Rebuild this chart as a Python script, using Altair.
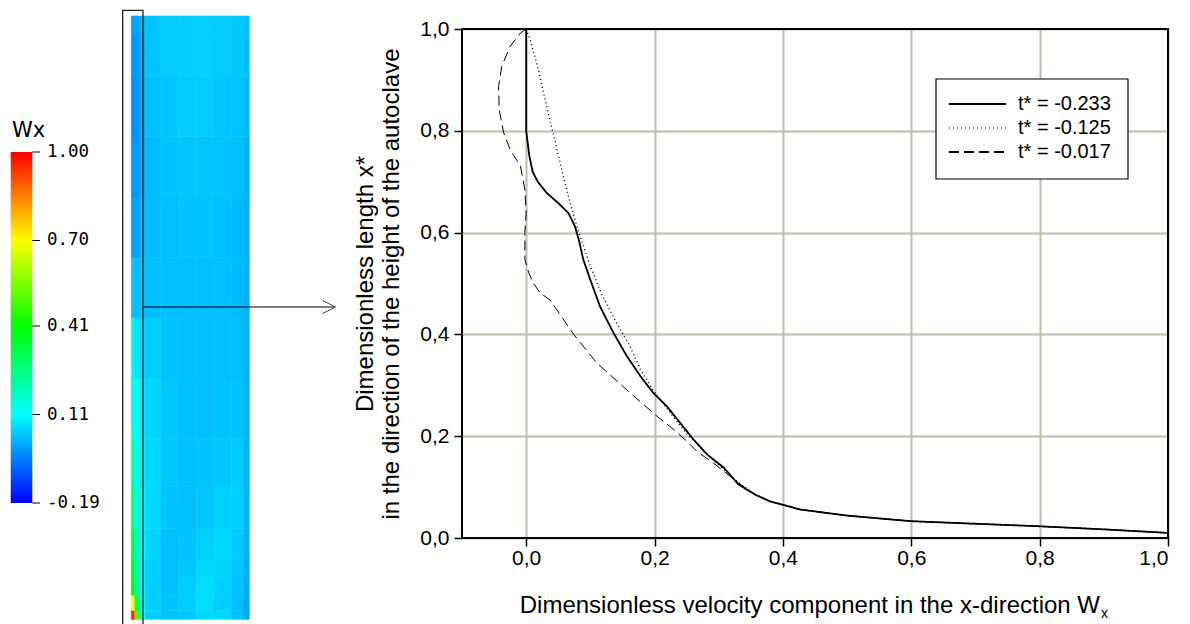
import altair as alt
import pandas as pd

# ---------------------------------------------------------------------------
# Velocity profiles near the wall: W_x (dimensionless) against height x*
# ---------------------------------------------------------------------------
SERIES = ["t* = -0.233", "t* = -0.125", "t* = -0.017"]

W_T233 = [0.0, 0.0, 0.0, 0.002, 0.005, 0.01, 0.018, 0.032, 0.05, 0.066, 0.076,
          0.082, 0.089, 0.1, 0.115, 0.136, 0.157, 0.178, 0.198, 0.219, 0.24,
          0.261, 0.282, 0.308, 0.331, 0.357, 0.38, 0.427, 0.5, 0.6, 0.7, 0.8,
          0.9, 1.0]
X_T233 = [1.0, 0.9, 0.8, 0.78, 0.75, 0.72, 0.70, 0.678, 0.658, 0.638, 0.612,
          0.586, 0.547, 0.507, 0.455, 0.403, 0.357, 0.318, 0.285, 0.259, 0.226,
          0.193, 0.164, 0.138, 0.105, 0.085, 0.072, 0.056, 0.044, 0.033, 0.028,
          0.023, 0.017, 0.01]

W_T125 = [0.0, 0.006, 0.017, 0.032, 0.048, 0.063, 0.079, 0.1, 0.118, 0.141,
          0.162, 0.178, 0.198, 0.225, 0.25, 0.29, 0.33, 0.357, 0.38, 0.427,
          0.5, 0.6, 0.7, 0.8, 0.9, 1.0]
X_T125 = [1.0, 0.98, 0.93, 0.848, 0.763, 0.684, 0.612, 0.534, 0.478, 0.422,
          0.376, 0.331, 0.29, 0.245, 0.205, 0.155, 0.11, 0.085, 0.072, 0.056,
          0.044, 0.033, 0.028, 0.023, 0.017, 0.01]

W_T017 = [0.0, -0.009, -0.025, -0.038, -0.043, -0.042, -0.035, -0.025, -0.009,
          -0.002, 0.0, -0.002, -0.002, 0.004, 0.011, 0.022, 0.037, 0.074, 0.11,
          0.162, 0.204, 0.23, 0.253, 0.266, 0.292, 0.331, 0.357, 0.38, 0.427,
          0.5, 0.6, 0.7, 0.8, 0.9, 1.0]
X_T017 = [1.0, 0.992, 0.966, 0.927, 0.887, 0.841, 0.796, 0.763, 0.731, 0.684,
          0.638, 0.6, 0.547, 0.521, 0.501, 0.481, 0.468, 0.4, 0.344, 0.285,
          0.239, 0.213, 0.187, 0.17, 0.147, 0.108, 0.085, 0.072, 0.056, 0.044,
          0.033, 0.028, 0.023, 0.017, 0.01]

X_TICKS = [0.0, 0.2, 0.4, 0.6, 0.8, 1.0]
Y_TICKS = [0.0, 0.2, 0.4, 0.6, 0.8, 1.0]

# ---------------------------------------------------------------------------
# Wx contour field of the autoclave section (r: wall -> outward, h: bottom -> top)
# ---------------------------------------------------------------------------
R_EDGES = [0.0, 0.03, 0.07, 0.12, 0.25, 0.4, 0.55, 0.7, 0.85, 0.95, 1.0]
H_EDGES = [0.0, 0.015, 0.04, 0.07, 0.1, 0.15, 0.22, 0.3, 0.4, 0.5, 0.6, 0.7,
           0.8, 0.9, 0.97, 1.0]
FIELD = [  # one row per height band, bottom first
    [0.95, 0.50, 0.12, 0.055, 0.04, 0.045, 0.065, 0.06, 0.035, 0.01],
    [0.70, 0.30, 0.10, 0.055, 0.04, 0.05, 0.07, 0.055, 0.035, 0.01],
    [0.42, 0.22, 0.10, 0.055, 0.035, 0.05, 0.07, 0.055, 0.04, 0.015],
    [0.38, 0.20, 0.10, 0.055, 0.035, 0.045, 0.065, 0.06, 0.045, 0.015],
    [0.33, 0.18, 0.10, 0.06, 0.035, 0.04, 0.055, 0.065, 0.05, 0.02],
    [0.25, 0.15, 0.10, 0.065, 0.04, 0.035, 0.045, 0.055, 0.055, 0.025],
    [0.20, 0.13, 0.09, 0.065, 0.045, 0.035, 0.04, 0.045, 0.05, 0.025],
    [0.15, 0.11, 0.08, 0.06, 0.045, 0.035, 0.035, 0.04, 0.04, 0.025],
    [0.10, 0.08, 0.06, 0.05, 0.04, 0.035, 0.035, 0.035, 0.035, 0.02],
    [0.04, 0.035, 0.035, 0.035, 0.035, 0.035, 0.035, 0.035, 0.03, 0.02],
    [0.0, 0.005, 0.02, 0.03, 0.035, 0.04, 0.04, 0.035, 0.03, 0.02],
    [-0.015, -0.01, 0.01, 0.03, 0.04, 0.045, 0.045, 0.04, 0.035, 0.025],
    [-0.02, -0.015, 0.01, 0.035, 0.045, 0.05, 0.05, 0.045, 0.04, 0.03],
    [-0.015, -0.01, 0.015, 0.04, 0.05, 0.055, 0.055, 0.05, 0.045, 0.035],
    [0.0, 0.005, 0.025, 0.04, 0.05, 0.055, 0.055, 0.05, 0.045, 0.04],
]

CBAR_TICKS = [-0.19, 0.11, 0.41, 0.70, 1.00]
CBAR_COLORS = ["#0000ff", "#00ffff", "#00ff00", "#ffff00", "#ff0000"]

# ---------------------------------------------------------------------------
# Layout (pixels on the page); the plot area origin sits at (OX, OY)
# ---------------------------------------------------------------------------
OX, OY = 462, 29
PW, PH = 706, 509
FONT = "Liberation Sans"
GRID = "#bdbdae"


def px(x):
    return x - OX


def py(y):
    return y - OY


# ---- profile lines --------------------------------------------------------
rows = []
for name, ws, xs in zip(SERIES, [W_T233, W_T125, W_T017], [X_T233, X_T125, X_T017]):
    for i, (w, x) in enumerate(zip(ws, xs)):
        rows.append({"series": name, "i": i, "w": w, "x": x})
profiles = pd.DataFrame(rows)

comma = "replace(format(datum.value, '.1f'), '.', ',')"
DASHES = [[1, 0], [1, 3], [10, 5]]
WIDTHS = [1.8, 1.0, 1.8]

lines = alt.Chart(profiles).mark_line(color="black", strokeJoin="round").encode(
    x=alt.X("w:Q", scale=alt.Scale(domain=[-0.1, 1.0], nice=False, zero=False),
            axis=alt.Axis(values=X_TICKS, labelExpr=comma, title=None, domain=False,
                          grid=True, gridColor=GRID, gridWidth=2, tickColor="black",
                          tickWidth=1.5, tickSize=8, labelFontSize=21, labelFont=FONT,
                          labelColor="black", labelPadding=1)),
    y=alt.Y("x:Q", scale=alt.Scale(domain=[0, 1], nice=False),
            axis=alt.Axis(values=Y_TICKS, labelExpr=comma,
                          title=["Dimensionless length x*",
                                 "in the direction of the height of the autoclave"],
                          titleFont=FONT, titleFontSize=24, titleFontWeight="normal",
                          titleColor="black", titlePadding=16, titleLineHeight=26,
                          domain=False, grid=True, gridColor=GRID, gridWidth=2,
                          tickColor="black", tickWidth=1.5, tickSize=8,
                          labelFontSize=21, labelFont=FONT, labelColor="black",
                          labelPadding=5)),
    order=alt.Order("i:Q"),
    detail="series:N",
    strokeDash=alt.StrokeDash("series:N", scale=alt.Scale(domain=SERIES, range=DASHES),
                              legend=None),
    strokeWidth=alt.StrokeWidth("series:N", scale=alt.Scale(domain=SERIES, range=WIDTHS),
                                legend=None),
)

one = pd.DataFrame({"k": [0]})

frame = alt.Chart(one).mark_rect(filled=False, stroke="black", strokeWidth=2).encode(
    x=alt.value(0), x2=alt.value(PW), y=alt.value(0), y2=alt.value(PH))

# x axis title with subscript
x_title = alt.Chart(one).mark_text(align="right", baseline="middle", font=FONT,
                                   fontSize=24, color="black").encode(
    x=alt.value(px(1100)), y=alt.value(py(606)),
    text=alt.value("Dimensionless velocity component in the x-direction W"))
x_sub = alt.Chart(one).mark_text(align="left", baseline="middle", font=FONT,
                                 fontSize=14, color="black").encode(
    x=alt.value(px(1101)), y=alt.value(py(614)), text=alt.value("x"))

# ---- legend box -----------------------------------------------------------
legend_layers = [
    alt.Chart(one).mark_rect(fill="white", stroke="black", strokeWidth=1.2).encode(
        x=alt.value(px(936)), x2=alt.value(px(1128)),
        y=alt.value(py(79)), y2=alt.value(py(179)))
]
LEG_Y = [104, 128, 152]
for label, yy, dash, sw in zip(SERIES, LEG_Y, DASHES, WIDTHS):
    legend_layers.append(
        alt.Chart(one).mark_rule(color="black", strokeDash=dash, strokeWidth=sw).encode(
            x=alt.value(px(949)), x2=alt.value(px(1006)), y=alt.value(py(yy))))
    legend_layers.append(
        alt.Chart(one).mark_text(align="left", baseline="middle", font=FONT,
                                 fontSize=20, color="black").encode(
            x=alt.value(px(1018)), y=alt.value(py(yy)), text=alt.value(label)))

# ---- contour field --------------------------------------------------------
cells = []
for i, row in enumerate(FIELD):
    for j, v in enumerate(row):
        cells.append({"r0": R_EDGES[j], "r1": R_EDGES[j + 1],
                      "h0": H_EDGES[i], "h1": H_EDGES[i + 1], "wx": v})
cells = pd.DataFrame(cells)

jet = alt.Scale(domain=CBAR_TICKS, range=CBAR_COLORS, interpolate="rgb")

field = alt.Chart(cells).mark_rect(strokeWidth=0.6).encode(
    x=alt.X("r0:Q", scale=alt.Scale(domain=[0, 1], range=[px(131.3), px(249.3)]), axis=None),
    x2="r1:Q",
    y=alt.Y("h0:Q", scale=alt.Scale(domain=[0, 1], range=[py(619.3), py(16)]), axis=None),
    y2="h1:Q",
    color=alt.Color("wx:Q", scale=jet, legend=None),
    stroke=alt.Stroke("wx:Q", scale=jet, legend=None),
)

# outline of the near-wall region and the pointer to the profile plot
outline = alt.Chart(one).mark_rect(filled=False, stroke="#222222", strokeWidth=1.3).encode(
    x=alt.value(px(122.7)), x2=alt.value(px(143)),
    y=alt.value(py(10.3)), y2=alt.value(py(640)))
pointer = alt.Chart(one).mark_rule(color="black", strokeWidth=1).encode(
    x=alt.value(px(143)), x2=alt.value(px(334)), y=alt.value(py(307)))
pointer_head = alt.Chart(one).mark_point(shape="M-1,-1L1,0L-1,1", filled=False,
                                         size=169, stroke="#444444", strokeWidth=1,
                                         opacity=1).encode(
    x=alt.value(px(329)), y=alt.value(py(307)))

# ---- colour bar -----------------------------------------------------------
lo, hi = CBAR_TICKS[0], CBAR_TICKS[-1]
cbar_scale = alt.Scale(domain=[lo, hi], range=[py(503), py(152)])
stops = [alt.GradientStop(color=c, offset=(t - lo) / (hi - lo))
         for t, c in zip(CBAR_TICKS, CBAR_COLORS)]
cbar = alt.Chart(pd.DataFrame({"lo": [lo], "hi": [hi]})).mark_rect(
    color=alt.Gradient(gradient="linear", stops=stops, x1=0, x2=0, y1=1, y2=0)
).encode(
    x=alt.value(px(10.7)), x2=alt.value(px(32.3)),
    y=alt.Y("lo:Q", scale=cbar_scale, axis=None), y2="hi:Q")

cbar_df = pd.DataFrame({"t": CBAR_TICKS, "label": [f"{t:.2f}" for t in CBAR_TICKS]})
cbar_ticks = alt.Chart(cbar_df).mark_rule(color="black", strokeWidth=1).encode(
    y=alt.Y("t:Q", scale=cbar_scale, axis=None),
    x=alt.value(px(32.3)), x2=alt.value(px(40)))
cbar_labels = alt.Chart(cbar_df).mark_text(align="left", baseline="middle",
                                           font="DejaVu Sans Mono", fontSize=17.5,
                                           color="black").encode(
    y=alt.Y("t:Q", scale=cbar_scale, axis=None),
    x=alt.value(px(47)), text="label:N")
cbar_title = alt.Chart(one).mark_text(align="left", baseline="middle",
                                      font="DejaVu Sans", fontSize=21,
                                      color="black").encode(
    x=alt.value(px(12)), y=alt.value(py(131)), text=alt.value("Wx"))

chart = alt.layer(
    field, outline, pointer, pointer_head,
    cbar, cbar_ticks, cbar_labels, cbar_title,
    lines, *legend_layers, frame, x_title, x_sub,
).resolve_scale(
    x="independent", y="independent", color="independent", stroke="independent"
).properties(
    width=PW, height=PH,
    autosize=alt.AutoSizeParams(type="none"),
    padding={"left": OX, "top": OY, "right": 1190 - OX - PW, "bottom": 624 - OY - PH},
    background="white",
).configure_view(stroke=None)

chart.save("out.html", embed_options={"renderer": "svg", "actions": False})
